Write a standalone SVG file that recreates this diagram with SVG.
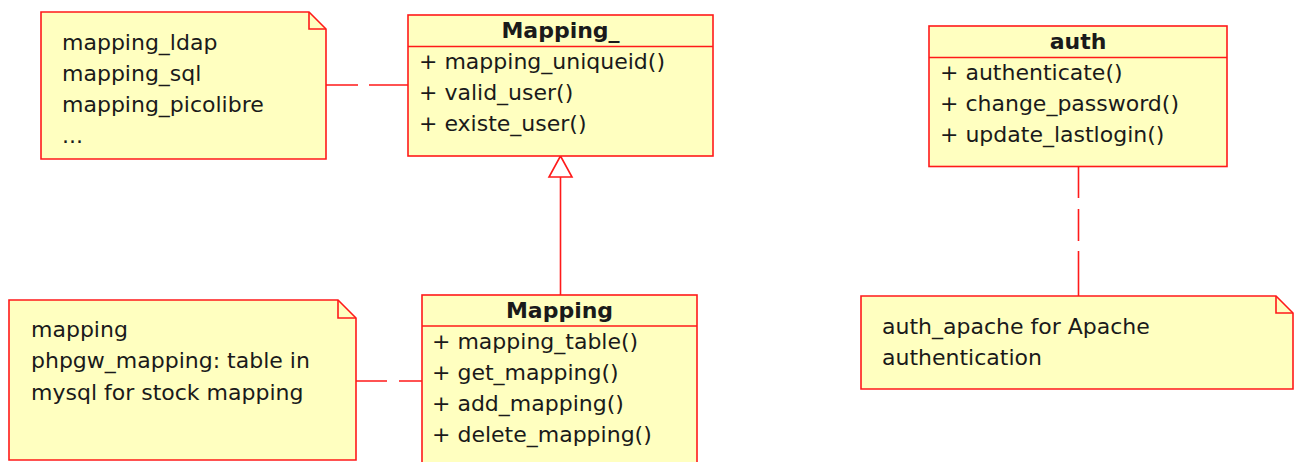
<svg xmlns="http://www.w3.org/2000/svg" width="1294" height="462" viewBox="0 0 1294 462">
  <style>
    .box { fill: #ffffc0; stroke: #ff1a1a; stroke-width: 1.6; }
    .line { fill: none; stroke: #ff1a1a; stroke-width: 1.6; }
    text { font-family: "DejaVu Sans", "Liberation Sans", sans-serif; font-size: 22px; fill: #1a1a1a; }
    .title { font-weight: bold; text-anchor: middle; }
  </style>
  <rect width="1294" height="462" fill="#ffffff"/>

  <!-- connectors: dashed note anchors and the generalization -->
  <g id="connectors">
    <path class="line" d="M326,85 H358 M369,85 H408"/>
    <path class="line" d="M356,381 H387 M399,381 H422"/>
    <path class="line" d="M1078.5,166 V198 M1078.5,209 V241 M1078.5,251 V296"/>
    <path class="line" d="M560.5,177 V295"/>
    <path class="line" d="M560.5,156 L549,177 H572 Z" fill="#ffffff"/>
  </g>

  <!-- note: mapping backends -->
  <g id="note-backends">
    <path class="box" d="M41,12 H309 L326,29 V159 H41 Z"/>
    <path class="line" d="M309,12 V29 H326"/>
    <text x="62" y="50">mapping_ldap</text>
    <text x="62" y="81">mapping_sql</text>
    <text x="62" y="112">mapping_picolibre</text>
    <text x="62" y="143">...</text>
  </g>

  <!-- class Mapping_ -->
  <g id="class-mapping-base">
    <rect class="box" x="408" y="15" width="305" height="141"/>
    <path class="line" d="M408,46.5 H713"/>
    <text class="title" x="560.5" y="38">Mapping_</text>
    <text x="419" y="69">+ mapping_uniqueid()</text>
    <text x="419" y="100">+ valid_user()</text>
    <text x="419" y="131">+ existe_user()</text>
  </g>

  <!-- note: mapping table -->
  <g id="note-table">
    <path class="box" d="M9,300 H338 L356,318 V460 H9 Z"/>
    <path class="line" d="M338,300 V318 H356"/>
    <text x="31" y="337">mapping</text>
    <text x="31" y="368">phpgw_mapping: table in</text>
    <text x="31" y="400">mysql for stock mapping</text>
  </g>

  <!-- class Mapping -->
  <g id="class-mapping">
    <rect class="box" x="422" y="295" width="275" height="180"/>
    <path class="line" d="M422,326 H697"/>
    <text class="title" x="559.5" y="318">Mapping</text>
    <text x="432" y="349">+ mapping_table()</text>
    <text x="432" y="380">+ get_mapping()</text>
    <text x="432" y="411">+ add_mapping()</text>
    <text x="432" y="442">+ delete_mapping()</text>
  </g>

  <!-- class auth -->
  <g id="class-auth">
    <rect class="box" x="929" y="26" width="298" height="140.5"/>
    <path class="line" d="M929,57.5 H1227"/>
    <text class="title" x="1078" y="49">auth</text>
    <text x="940" y="80">+ authenticate()</text>
    <text x="940" y="111">+ change_password()</text>
    <text x="940" y="142">+ update_lastlogin()</text>
  </g>

  <!-- note: apache auth -->
  <g id="note-apache">
    <path class="box" d="M861,296 H1276 L1293,313 V389 H861 Z"/>
    <path class="line" d="M1276,296 V313 H1293"/>
    <text x="882" y="334">auth_apache for Apache</text>
    <text x="882" y="365">authentication</text>
  </g>
</svg>
